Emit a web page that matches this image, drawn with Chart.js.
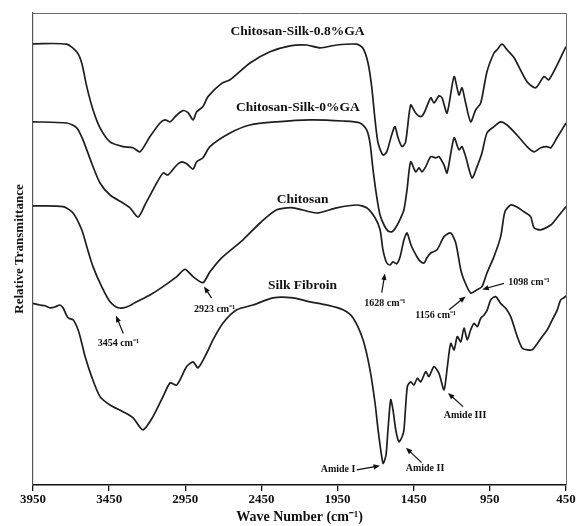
<!DOCTYPE html>
<html>
<head>
<meta charset="utf-8">
<script src="https://cdn.jsdelivr.net/npm/chart.js@4"></script>
<style>
html,body{margin:0;padding:0;background:#fff;}
#wrap{width:576px;height:526px;}
</style>
</head>
<body>
<div id="wrap"><canvas id="c" width="576" height="526"></canvas></div>
<script>
// ---- Data (wavenumber in cm-1, relative transmittance in arbitrary offset units) ----
const xTicks = [3950, 3450, 2950, 2450, 1950, 1450, 950, 450];

const wnGA08 = [3950,3729,3663,3630,3597,3556,3510,3444,3359,3293,3247,3182,3116,3083,3050,3006,2965,2932,2899,2875,2834,2801,2711,2656,2525,2394,2262,2153,2065,1956,1824,1783,1750,1726,1704,1684,1652,1627,1595,1573,1553,1527,1503,1470,1437,1404,1382,1338,1317,1284,1264,1231,1185,1153,1133,1109,1076,1043,1010,969,923,903,870,837,791,706,649,594,562,450];
const tGA08 = [110.3,110.2,108.3,105.5,99.6,93.8,89.3,85.8,84.6,84.3,83.3,87.1,90.5,91.3,90.8,92.5,93.6,93.1,91.3,93.3,94.6,97.1,100.4,101.3,105.5,108.3,109.8,110,109.3,110,110.2,109.2,105.5,99.6,91.3,85.5,82.5,83.3,87.5,89.6,86.8,84.6,85.8,95,93,92.1,93,96.8,95.5,97.3,96.8,93,102.1,97.5,99.3,95.5,90.8,93.8,95.5,103.3,108,108.8,110.2,108.8,106.8,100.8,99.3,102.1,101.3,109.6];

const wnGA0 = [3950,3729,3663,3622,3565,3510,3444,3359,3313,3260,3215,3162,3096,3064,3006,2974,2941,2899,2875,2834,2788,2656,2525,2350,2131,1914,1803,1759,1737,1717,1693,1671,1645,1619,1593,1566,1535,1514,1494,1470,1437,1415,1396,1371,1338,1306,1284,1251,1231,1185,1153,1133,1109,1067,1034,1002,969,923,879,837,772,706,660,616,575,550,509,450];
const tGA0 = [90.8,90.5,89.3,86.3,80.5,75.5,72.5,70.5,69.3,67,70,73.8,78,77.5,80,80.8,80.3,79,80.8,81.8,84.6,88,90,90.8,91.3,91,90.5,88.8,85.5,78.8,72.1,67.5,65,63.5,63.3,64.5,66.8,68.8,73.8,80.8,78.3,79.3,78.3,79.6,82.1,81.8,82.1,80,78,86.8,83.8,84.6,82.1,76.8,79.6,83,88,89.6,90.8,90,87.5,84.6,83.3,84.3,84.6,84.3,86.8,90.5];

const wnChitosan = [3950,3753,3687,3630,3597,3556,3499,3444,3392,3335,3269,3182,3096,3006,2952,2899,2834,2788,2711,2571,2459,2350,2243,2087,1956,1824,1759,1704,1671,1652,1627,1606,1586,1562,1540,1514,1494,1468,1428,1409,1382,1363,1338,1297,1251,1207,1174,1141,1120,1076,1034,1002,969,923,879,851,813,772,726,682,660,616,550,509,450];
const tChitosan = [69.8,69.6,68,63.8,59.6,54.6,49.6,45.8,44.3,44.5,45.8,47.5,49.6,52.1,53.9,52.1,50.6,53.3,56.8,61.3,65.5,68.8,69.3,68,69.3,70,69.3,66.8,63.8,58.8,55.5,55,55.8,55.3,57,61.3,63,60,57,56,55.5,56.8,58,58.8,62.1,63,60.5,53.8,51.3,48,48.8,49.6,53,57.1,62.1,68.3,70,69.5,68.3,67.1,64.3,63.8,65,66.8,69.6];

const wnSilk = [3950,3904,3871,3838,3806,3773,3753,3720,3687,3654,3630,3608,3565,3510,3444,3359,3293,3228,3162,3096,3050,3006,2941,2899,2866,2809,2768,2702,2612,2505,2374,2243,2131,2021,1914,1849,1783,1737,1704,1684,1660,1650,1632,1619,1601,1586,1568,1547,1527,1514,1492,1470,1448,1426,1404,1371,1350,1317,1284,1251,1229,1207,1185,1164,1141,1120,1098,1076,1054,1032,1010,988,967,944,912,879,846,813,770,737,704,671,638,606,573,540,507,485,463,450];
const tSilk = [45.4,45,44.8,44.3,44.5,45,44.3,41.8,41.3,38.8,35.5,32.1,27.1,22.1,20,18.3,16.8,13.8,17.1,22.1,25.5,25,29.6,30.8,29.3,33,36.3,40.5,43.8,45,46.8,46.8,45.8,45,43.8,41.8,36.3,28.8,20.5,13.8,7.1,5.4,7.5,13.8,21.3,18.8,13.8,10.8,12,13.8,24.6,25.8,25,26.7,25.8,28.3,27.1,29.6,27.9,23.8,29.6,35.4,33.8,37.1,35.8,39.2,36.3,38.8,40.4,39.6,41.7,42.5,43.8,46.3,47.1,45.4,44.2,42.1,37.1,34.2,33.8,33.8,35.4,37.1,38.8,41.3,43.8,46.3,46.8,47.3];

const seriesNames = ['Chitosan-Silk-0.8%GA', 'Chitosan-Silk-0%GA', 'Chitosan', 'Silk Fibroin'];
const seriesLabelWn = [2213, 2211, 2180, 2180];
const seriesLabelT = [113.3, 94.4, 71.4, 49.8];

// peak annotations: text, label position, arrow tail and head (all in data units)
const noteText = ['3454 cm⁻¹', '2923 cm⁻¹', '1628 cm⁻¹', '1156 cm⁻¹', '1098 cm⁻¹', 'Amide I', 'Amide II', 'Amide III'];
const noteWn = [3390, 2758, 1639, 1306, 693, 1947, 1376, 1113];
const noteT = [35.4, 44, 45.4, 42.5, 50.6, 4, 4.2, 17.3];
const arrowFromWn = [3357, 2777, 1660, 1218, 857, 1824, 1398, 1126];
const arrowFromT = [37.9, 46.7, 48.1, 43.8, 50.4, 3.8, 5.6, 19.6];
const arrowToWn = [3405, 2827, 1639, 1109, 1000, 1671, 1501, 1225];
const arrowToT = [42.3, 49.6, 52.9, 47.1, 48.9, 4.8, 9.3, 23];

// ---- Build chart ----
const SERIF = "'Liberation Serif', 'Times New Roman', serif";
const lineColor = '#1e1e1e';
function pts(xs, ys) { return xs.map((x, i) => ({x: x, y: ys[i]})); }

const datasets = [
  {label: seriesNames[0], data: pts(wnGA08, tGA08)},
  {label: seriesNames[1], data: pts(wnGA0, tGA0)},
  {label: seriesNames[2], data: pts(wnChitosan, tChitosan)},
  {label: seriesNames[3], data: pts(wnSilk, tSilk)}
].map(d => Object.assign(d, {borderColor: lineColor, borderWidth: 1.7, pointRadius: 0, tension: 0.25, fill: false}));

const framePlugin = {
  id: 'frame',
  afterDatasetsDraw(chart) {
    const {ctx, chartArea: a} = chart;
    ctx.save();
    ctx.strokeStyle = '#6a6a6a';
    ctx.lineWidth = 1;
    ctx.beginPath();
    ctx.moveTo(a.left, a.top + 0.5);
    ctx.lineTo(a.right + 0.5, a.top + 0.5);
    ctx.lineTo(a.right + 0.5, a.bottom);
    ctx.stroke();
    ctx.restore();
  }
};

const notesPlugin = {
  id: 'notes',
  afterDatasetsDraw(chart) {
    const {ctx} = chart;
    const xs = chart.scales.x, ys = chart.scales.y;
    ctx.save();
    ctx.fillStyle = '#111';
    ctx.textAlign = 'center';
    ctx.textBaseline = 'middle';
    ctx.font = 'bold 13.5px ' + SERIF;
    seriesNames.forEach((s, i) => {
      ctx.fillText(s, xs.getPixelForValue(seriesLabelWn[i]), ys.getPixelForValue(seriesLabelT[i]));
    });
    ctx.font = 'bold 10px ' + SERIF;
    noteText.forEach((s, i) => {
      ctx.fillText(s, xs.getPixelForValue(noteWn[i]), ys.getPixelForValue(noteT[i]));
      const x1 = xs.getPixelForValue(arrowFromWn[i]), y1 = ys.getPixelForValue(arrowFromT[i]);
      const x2 = xs.getPixelForValue(arrowToWn[i]), y2 = ys.getPixelForValue(arrowToT[i]);
      const ang = Math.atan2(y2 - y1, x2 - x1);
      const L = 6.5, W = 2.6;
      ctx.strokeStyle = '#111';
      ctx.lineWidth = 1.2;
      ctx.beginPath();
      ctx.moveTo(x1, y1);
      ctx.lineTo(x2 - Math.cos(ang) * L * 0.8, y2 - Math.sin(ang) * L * 0.8);
      ctx.stroke();
      ctx.beginPath();
      ctx.moveTo(x2, y2);
      ctx.lineTo(x2 - Math.cos(ang) * L - Math.sin(ang) * W, y2 - Math.sin(ang) * L + Math.cos(ang) * W);
      ctx.lineTo(x2 - Math.cos(ang) * L + Math.sin(ang) * W, y2 - Math.sin(ang) * L - Math.cos(ang) * W);
      ctx.closePath();
      ctx.fill();
    });
    ctx.restore();
  }
};

new Chart(document.getElementById('c'), {
  type: 'line',
  data: {datasets: datasets},
  options: {
    responsive: false,
    animation: false,
    devicePixelRatio: 1,
    layout: {padding: {left: 0, right: 10, top: 13, bottom: 0}},
    plugins: {legend: {display: false}, tooltip: {enabled: false}},
    scales: {
      x: {
        type: 'linear', reverse: true, min: 450, max: 3950,
        afterBuildTicks: s => { s.ticks = xTicks.map(v => ({value: v})); },
        afterFit: s => { s.height = 41; s.paddingLeft = 0; s.paddingRight = 0; },
        ticks: {color: '#111', font: {family: SERIF, size: 13, weight: 'bold'}, padding: 1, autoSkip: false, maxRotation: 0,
                callback: v => String(v)},
        grid: {display: true, drawOnChartArea: false, drawTicks: true, tickLength: 6, color: '#111', lineWidth: 1.3},
        border: {display: true, color: '#111', width: 1.6},
        title: {display: true, text: 'Wave Number (cm⁻¹)', color: '#111', font: {family: SERIF, size: 14, weight: 'bold'}, padding: {top: 0, bottom: 0}}
      },
      y: {
        min: 0, max: 118,
        afterFit: s => { s.width = 33; },
        ticks: {display: false},
        grid: {display: false, drawTicks: false},
        border: {display: true, color: '#555', width: 1.2},
        title: {display: true, text: 'Relative Transmittance', color: '#111', font: {family: SERIF, size: 13, weight: 'bold'}, padding: {top: 12, bottom: 0}}
      }
    }
  },
  plugins: [framePlugin, notesPlugin]
});
</script>
</body>
</html>
